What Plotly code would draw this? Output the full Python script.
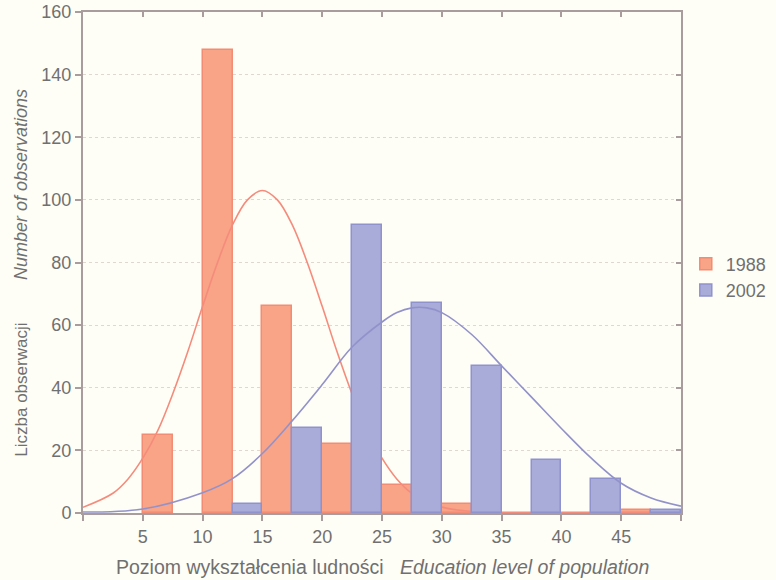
import plotly.graph_objects as go

# ---- data ----
bins_1988 = [5, 10, 15, 20, 25, 30, 35, 40, 45]
counts_1988 = [25, 148, 66, 22, 9, 3, 0, 0, 1]

bins_2002 = [12.5, 17.5, 22.5, 27.5, 32.5, 37.5, 42.5, 47.5]
counts_2002 = [3, 27, 92, 67, 47, 17, 11, 1]

curve_x_1988 = [0, 2.5, 3.75, 5, 6.25, 7.5, 8.75, 10, 11.25, 12.5, 13.75, 15, 16.25, 17.5,
                18.75, 20, 21.25, 22.5, 23.75, 25, 26.25, 27.5, 30, 32.5, 35, 37.5, 40, 45, 50]
curve_y_1988 = [1.8, 6.3, 10.8, 17.5, 26.3, 38, 51.4, 66, 80, 92, 100, 103, 100, 92,
                80, 66, 51.4, 38, 26.3, 17.5, 10.8, 6.3, 1.9, 0.5, 0.1, 0, 0, 0, 0]

curve_x_2002 = [0, 5, 10, 12.5, 15, 17.5, 20, 22.5, 25, 26.25, 27.5, 28.75, 30, 32.5, 35,
                37.5, 40, 42.5, 45, 47.5, 50]
curve_y_2002 = [0.3, 1.3, 6.5, 11, 19, 29.5, 41, 53, 61, 64, 65.5, 65.5, 64, 57, 47,
                37, 27, 17.5, 9.5, 4.8, 2.2]

x_tick_vals = [0, 5, 10, 15, 20, 25, 30, 35, 40, 45, 50]
x_tick_text = ["", "5", "10", "15", "20", "25", "30", "35", "40", "45", ""]
y_tick_vals = [0, 20, 40, 60, 80, 100, 120, 140, 160]

series_names = ["1988", "2002"]

GAP_X = "\u00a0" * 3
GAP_Y = "\u00a0" * 9
x_title = "Poziom wykształcenia ludności" + GAP_X + "<i>Education level of population</i>"
y_title = ("Liczba obserwacji" + GAP_Y +
           "<span style='font-size:18px'><i>Number of observations</i></span>")

# ---- styling ----
FONT = "Arial, Liberation Sans, sans-serif"
TXT = "#707070"
AX = "#A89C9C"
BG = "#FEFEF6"
red_fill, red_edge, red_line = "#F9A387", "#F28C74", "#F48C7C"
blue_fill, blue_edge, blue_line = "#A9ABD9", "#9092CC", "#9292CA"

fig = go.Figure()

fig.add_trace(go.Bar(
    x=bins_1988, y=counts_1988, width=2.5, offset=0, name=series_names[0],
    marker=dict(color=red_fill, line=dict(color=red_edge, width=1.5)),
    xaxis="x", yaxis="y",
))
fig.add_trace(go.Scatter(
    x=curve_x_1988, y=curve_y_1988, mode="lines", showlegend=False,
    line=dict(color=red_line, width=1.6, shape="spline", smoothing=1.0),
    xaxis="x", yaxis="y", hoverinfo="skip",
))
fig.add_trace(go.Bar(
    x=bins_2002, y=counts_2002, width=2.5, offset=0, name=series_names[1],
    marker=dict(color=blue_fill, line=dict(color=blue_edge, width=1.5)),
    xaxis="x2", yaxis="y2",
))
fig.add_trace(go.Scatter(
    x=curve_x_2002, y=curve_y_2002, mode="lines", showlegend=False,
    line=dict(color=blue_line, width=1.6, shape="spline", smoothing=1.0),
    xaxis="x2", yaxis="y2", hoverinfo="skip",
))

fig.update_layout(
    width=776, height=580,
    margin=dict(l=83, r=95, t=12, b=67, autoexpand=False),
    paper_bgcolor=BG, plot_bgcolor=BG,
    font=dict(family=FONT, size=18, color=TXT),
    barmode="overlay",
    bargap=0,
    xaxis=dict(
        range=[0, 50], tickmode="array", tickvals=x_tick_vals, ticktext=x_tick_text,
        ticks="outside", ticklen=6, tickcolor=AX, tickwidth=1.5,
        showline=True, linecolor=AX, linewidth=2, mirror=True,
        showgrid=False, zeroline=False, automargin=False,
        tickfont=dict(size=18, color=TXT, family=FONT),
    ),
    yaxis=dict(
        range=[0, 160], tickmode="array", tickvals=y_tick_vals,
        ticks="outside", ticklen=6, tickcolor=AX, tickwidth=1.5,
        showline=True, linecolor=AX, linewidth=2, mirror=True,
        showgrid=True, gridcolor="#DDD8D0", griddash="dot", gridwidth=1,
        zeroline=False, automargin=False,
        tickfont=dict(size=18, color=TXT, family=FONT),
    ),
    xaxis2=dict(
        overlaying="x", anchor="y2", side="top", range=[0, 50],
        tickmode="array", tickvals=x_tick_vals, ticks="inside", ticklen=5,
        tickcolor=AX, tickwidth=1.5, showticklabels=False, automargin=False,
        showgrid=False, zeroline=False, showline=False,
    ),
    yaxis2=dict(
        overlaying="y", anchor="x2", side="right", range=[0, 160],
        tickmode="array", tickvals=y_tick_vals, ticks="inside", ticklen=5,
        tickcolor=AX, tickwidth=1.5, showticklabels=False, automargin=False,
        showgrid=False, zeroline=False, showline=False,
    ),
    legend=dict(
        x=1.008, y=0.534, xanchor="left", yanchor="top",
        bgcolor="rgba(0,0,0,0)", font=dict(size=18, color=TXT, family=FONT),
        traceorder="normal",
    ),
    annotations=[
        dict(text=x_title, xref="paper", yref="paper", x=0.5, y=-0.108,
             xanchor="center", yanchor="middle", showarrow=False,
             font=dict(size=19.5, color=TXT, family=FONT)),
        dict(text=y_title, xref="paper", yref="paper", x=-0.105, y=0.48,
             xanchor="center", yanchor="middle", showarrow=False, textangle=-90,
             font=dict(size=17, color=TXT, family=FONT)),
    ],
)

fig.write_html(
    "out.html",
    config={"displayModeBar": False},
    post_script="document.body.style.margin='0';document.body.style.overflow='hidden';",
)
